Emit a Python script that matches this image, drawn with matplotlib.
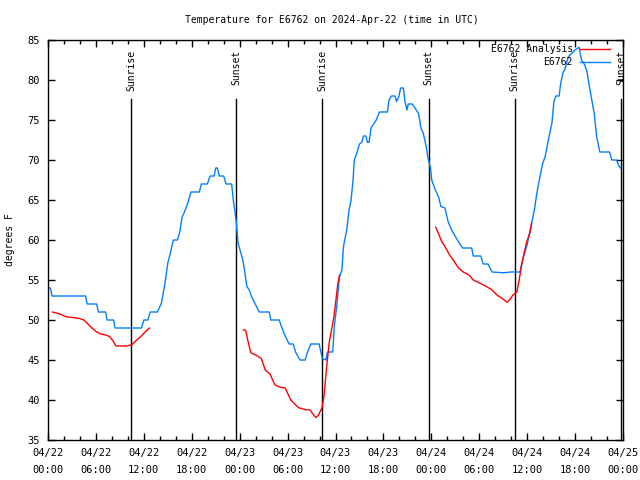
import matplotlib
matplotlib.use('Agg')
import matplotlib.pyplot as plt
import numpy as np

# ── Data (hours since 2024-04-22 00:00 UTC) ──
obs_hours = [0.0, 0.3, 0.5, 4.7, 4.9, 6.1, 6.3, 7.2, 7.4, 8.2, 8.4, 11.7, 12.0, 12.5, 12.8, 13.7,
             14.2, 14.65, 15.0, 15.3, 15.7, 16.2, 16.5, 16.8, 17.0, 17.5, 17.9, 18.95, 19.2, 19.95,
             20.3, 20.8, 21.0, 21.2, 21.45, 22.0, 22.3, 23.0, 23.2, 23.55, 23.8, 24.4, 24.6, 24.9,
             25.2, 25.5, 25.9, 26.45, 27.7, 27.9, 28.95, 29.3, 29.7, 30.2, 30.7, 31.0, 31.55, 32.2,
             32.5, 32.9, 33.95, 34.35, 34.8, 35.0, 35.65, 35.85, 36.15, 36.5, 36.8, 37.0, 37.4,
             37.7, 37.95, 38.2, 38.35, 38.65, 39.0, 39.3, 39.5, 39.8, 40.0, 40.2, 40.45, 40.7, 41.1,
             41.5, 42.5, 42.7, 43.0, 43.45, 43.65, 43.95, 44.15, 44.5, 44.7, 44.95, 45.1, 45.6,
             45.95, 46.4, 46.7, 47.0, 47.35, 47.6, 47.9, 48.05, 48.5, 48.9, 49.2, 49.7, 50.1, 50.55,
             51.2, 51.9, 53.05, 53.25, 54.2, 54.5, 55.1, 55.6, 57.0, 58.0, 59.1, 59.5, 60.0, 60.55,
             60.9, 61.2, 61.6, 61.95, 62.25, 62.65, 63.1, 63.35, 63.6, 64.0, 64.2, 64.5, 64.7, 65.15,
             65.55, 66.0, 66.5, 66.8, 67.2, 67.5, 67.75, 68.1, 68.4, 68.7, 69.1, 70.3, 70.6, 71.2,
             71.5, 71.7]
obs_temps = [54.0, 54.0, 53, 53, 52, 52, 51, 51, 50, 50, 49, 49, 50, 50, 51, 51,
             52.1, 54.6, 57.1, 58.3, 60, 60, 61, 62.9, 63.3, 64.6, 66, 66, 67, 67,
             68, 68, 69, 69, 68, 68, 67, 67, 65, 62.5, 59.6, 57.5, 56.25, 54.2,
             53.75, 52.9, 52.1, 51, 51, 50, 50, 49, 48, 47, 47, 46, 45, 45,
             46, 47, 47, 45.2, 45, 46, 46, 49.2, 51.7, 55.4, 56.25, 59.2, 61.25,
             63.75, 65, 67.5, 70, 70.8, 72, 72.2, 73, 73, 72.2, 72.2, 74, 74.4, 75,
             76, 76, 77.5, 78, 78, 77.3, 78, 79, 79, 77.3, 76.25, 77, 77,
             76.5, 75.8, 74, 73.3, 71.7, 70.2, 69, 67.5, 66.25, 65.4, 64.2, 64, 62.3, 61.25,
             60.1, 59, 59, 58, 58, 57, 57, 56, 55.9, 56, 56, 57.8, 59.4, 62.1,
             63.75, 65.8, 67.9, 69.6, 70.4, 72.5, 74.6, 77.3, 78, 78, 79.6, 81, 81.25, 82.9,
             83.3, 83.75, 84.1, 82.5, 81.9, 81, 79.4, 77.5, 75.8, 72.9, 71, 71, 70, 70,
             69.2, 69]

ana1_hours = [0.55, 1.5, 2.3, 3.2, 3.9, 4.5, 4.9, 5.5, 6.1, 6.6, 7.35, 7.75, 8.2, 8.5, 9.85,
              10.5, 11.1, 11.7, 12.15, 12.7]
ana1_temps = [51.0, 50.75, 50.4, 50.3, 50.2, 50.0, 49.6, 49.0, 48.5, 48.25, 48.1, 47.9, 47.3,
              46.75, 46.75, 46.9, 47.5, 48.0, 48.5, 49.0]

ana2_hours = [24.45, 24.75, 25.1, 25.4, 26.05, 26.7, 27.2, 27.8, 28.4, 29.05, 29.7, 30.4, 31.35,
              32.2, 32.8, 33.2, 33.55, 33.85, 34.3, 34.55, 34.9, 35.2, 35.5, 35.8, 36.05, 36.3,
              36.5]
ana2_temps = [48.75, 48.7, 47.1, 45.9, 45.6, 45.2, 43.75, 43.25, 41.9, 41.6, 41.5, 40.0, 39.05,
              38.8, 38.75, 38.2, 37.8, 38.1, 39.0, 40.4, 44.2, 47.1, 48.75, 50.4, 52.5, 54.6,
              55.6]

ana3_hours = [48.55, 48.9, 49.3, 49.7, 50.3, 50.75, 51.4, 52.0, 52.75, 53.25, 53.9, 54.7, 55.55,
              56.25, 57.0, 57.5, 57.85, 58.2, 58.7, 59.0, 59.3, 59.65, 59.95, 60.35, 60.55]
ana3_temps = [61.6, 60.8, 59.8, 59.2, 58.1, 57.5, 56.5, 56.0, 55.6, 55.0, 54.7, 54.3, 53.8,
              53.1, 52.6, 52.2, 52.6, 53.1, 53.5, 55.0, 56.9, 58.5, 59.8, 60.9, 62.1]

sun_hours  = [10.39, 23.58, 34.35, 47.67, 58.44, 71.75]
sun_labels = ['Sunrise', 'Sunset', 'Sunrise', 'Sunset', 'Sunrise', 'Sunset']

xtick_hours  = [0, 6, 12, 18, 24, 30, 36, 42, 48, 54, 60, 66, 72]
xtick_labels = ['04/22\n00:00', '04/22\n06:00', '04/22\n12:00', '04/22\n18:00',
                '04/23\n00:00', '04/23\n06:00', '04/23\n12:00', '04/23\n18:00',
                '04/24\n00:00', '04/24\n06:00', '04/24\n12:00', '04/24\n18:00',
                '04/25\n00:00']

# ── Chart ──
plt.rcParams['font.family'] = ['DejaVu Sans Mono']
FS = 7
TICK_FS = 7.5
RED = '#ff0000'
BLUE = '#0080ff'

fig = plt.figure(figsize=(6.4, 4.8), dpi=100)
ax = fig.add_axes([48 / 640, 40 / 480, 575 / 640, 400 / 480])

for h, lab in zip(sun_hours, sun_labels):
    ax.plot([h, h], [35, 77.6], color='black', linewidth=1.0)
    ax.text(h, 83.8, lab, rotation=90, ha='center', va='top', fontsize=FS)

ax.plot(obs_hours, obs_temps, color=BLUE, linewidth=1.0)
for hh, tt in [(ana1_hours, ana1_temps), (ana2_hours, ana2_temps), (ana3_hours, ana3_temps)]:
    ax.plot(hh, tt, color=RED, linewidth=1.0)

ax.set_xlim(0, 72)
ax.set_ylim(35, 85)
ax.set_xticks(xtick_hours)
ax.set_xticklabels(xtick_labels, fontsize=TICK_FS, linespacing=1.8)
ax.set_xticks(np.arange(0, 73, 2), minor=True)
ax.set_yticks(np.arange(35, 86, 5))
ax.set_yticklabels([str(v) for v in range(35, 86, 5)], fontsize=TICK_FS)
ax.tick_params(which='both', direction='in', top=True, right=True, width=1)
ax.tick_params(which='major', length=5)
ax.tick_params(which='minor', length=3)
ax.tick_params(axis='x', pad=6)
ax.tick_params(axis='y', pad=6)
for s in ax.spines.values():
    s.set_linewidth(1.0)

# legend drawn by hand, gnuplot style
for yy, lab, col in [(0.9775, 'E6762 Analysis', RED), (0.945, 'E6762', BLUE)]:
    ax.text(0.913, yy, lab, transform=ax.transAxes, ha='right', va='center', fontsize=FS)
    ax.plot([0.925, 0.977], [yy, yy], transform=ax.transAxes, color=col, linewidth=1.0)

fig.text(0.519, 1 - 20 / 480, 'Temperature for E6762 on 2024-Apr-22 (time in UTC)',
         ha='center', va='center', fontsize=FS)
fig.text(10 / 640, 0.5, 'degrees F', rotation=90, ha='center', va='center', fontsize=FS)

fig.savefig('out.png', dpi=100)
